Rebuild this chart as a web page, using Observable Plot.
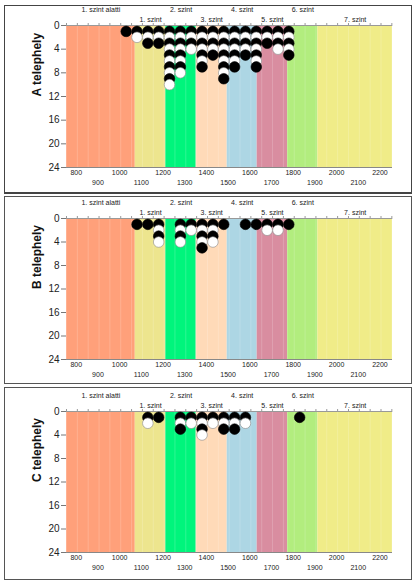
<!DOCTYPE html>
<html>
<head>
<meta charset="utf-8">
<script src="https://cdn.jsdelivr.net/npm/d3@7"></script>
<script src="https://cdn.jsdelivr.net/npm/@observablehq/plot@0.6"></script>
<style>
  html, body { margin: 0; padding: 0; background: #fff; }
  #page { position: relative; width: 418px; height: 584px; overflow: hidden; font-family: "Liberation Sans", Arial, sans-serif; }
  .panel { position: absolute; left: 4px; }
  .frame { position: absolute; box-sizing: border-box; pointer-events: none; }
</style>
</head>
<body>
<div id="page"></div>
<script>
// ---- data ----
const levelNames = ["1. szint alatti", "1. szint", "2. szint", "3. szint", "4. szint", "5. szint", "6. szint", "7. szint"];
const levelEdges = [755, 1072, 1213, 1353, 1496, 1634, 1775, 1914, 2258];
const levelColors = ["#FFA07A", "#EDE58E", "#00F57C", "#FFDAB8", "#ADD6E4", "#D98DA0", "#B2ED7E", "#F0EC88"];

const xTicksRow1 = [800, 1000, 1200, 1400, 1600, 1800, 2000, 2200];
const xTicksRow2 = [900, 1100, 1300, 1500, 1700, 1900, 2100];
const yTicks = [0, 4, 8, 12, 16, 20, 24];

const siteNames = ["A telephely", "B telephely", "C telephely"];

const binsA = [1030, 1080, 1130, 1180, 1230, 1280, 1330, 1380, 1430, 1480, 1530, 1580, 1630, 1680, 1730, 1780];
const countsA = [1, 2, 3, 3, 10, 8, 4, 7, 5, 9, 7, 5, 7, 3, 4, 5];

const binsB = [1080, 1130, 1180, 1280, 1330, 1380, 1430, 1480, 1580, 1630, 1680, 1730, 1780];
const countsB = [1, 1, 4, 4, 2, 5, 4, 1, 1, 1, 2, 2, 1];

const binsC = [1130, 1180, 1280, 1330, 1380, 1430, 1480, 1530, 1580, 1830];
const countsC = [2, 1, 3, 2, 4, 2, 3, 3, 2, 1];

// ---- derived tables ----
const levels = levelNames.map((name, i) => ({
  name, start: levelEdges[i], end: levelEdges[i + 1], color: levelColors[i], row: i % 2
}));
const binEdges = d3.range(755, 2258, 50);

function stackDots(bins, counts) {
  const out = [];
  bins.forEach((b, i) => { for (let k = 1; k <= counts[i]; k++) out.push({x: b, k}); });
  return out;
}

const panels = [
  {site: siteNames[0], dots: stackDots(binsA, countsA), top: 5, height: 188, mt: 20, mb: 26},
  {site: siteNames[1], dots: stackDots(binsB, countsB), top: 196, height: 188, mt: 22, mb: 25},
  {site: siteNames[2], dots: stackDots(binsC, countsC), top: 387, height: 193, mt: 24, mb: 28}
];

const page = document.getElementById("page");
const font = "'Liberation Sans', Arial, sans-serif";

panels.forEach(p => {
  const chart = Plot.plot({
    width: 408,
    height: p.height,
    marginLeft: 62,
    marginRight: 20,
    marginTop: p.mt,
    marginBottom: p.mb,
    style: {fontFamily: font, background: "transparent", color: "#222"},
    x: {domain: [755, 2258]},
    y: {domain: [0, 24], reverse: true},
    marks: [
      Plot.rect(levels, {x1: "start", x2: "end", y1: 0, y2: 24, fill: "color"}),
      Plot.ruleX(binEdges, {y1: 0, y2: 24, stroke: "white", strokeOpacity: 0.18, strokeWidth: 1}),
      Plot.ruleY([0], {stroke: "#999", strokeWidth: 1}),
      Plot.ruleY([24], {stroke: "#888", strokeWidth: 1}),
      Plot.axisX({anchor: "top", ticks: binEdges, tickSize: 3, tickFormat: () => "", label: null, stroke: "#999"}),
      Plot.axisY({ticks: yTicks, tickSize: 5, tickPadding: 2, fontSize: 10, label: null, stroke: "#777", fill: "#222"}),
      Plot.text(levels.filter(d => d.row === 0), {x: d => (d.start + d.end) / 2, text: "name", frameAnchor: "top",
        dy: -16, lineAnchor: "middle", fontSize: 7, fill: "#222"}),
      Plot.text(levels.filter(d => d.row === 1), {x: d => (d.start + d.end) / 2, text: "name", frameAnchor: "top",
        dy: -6, lineAnchor: "middle", fontSize: 7, fill: "#222"}),
      Plot.text(xTicksRow1, {x: d => d, text: d => String(d), frameAnchor: "bottom", dy: 5.5, lineAnchor: "middle", fontSize: 7, fill: "#222"}),
      Plot.text(xTicksRow2, {x: d => d, text: d => String(d), frameAnchor: "bottom", dy: 15.5, lineAnchor: "middle", fontSize: 7, fill: "#222"}),
      Plot.text([p.site], {text: d => d, frameAnchor: "left", dx: -29, rotate: -90, fontWeight: "bold", fontSize: 12, fill: "#111"}),
      Plot.dot(p.dots, {x: "x", y: "k", r: 5.3,
        fill: d => d.k % 2 === 1 ? "#000" : "#fff",
        stroke: d => d.k % 2 === 1 ? "#000" : "#888",
        strokeWidth: 0.6})
    ]
  });
  const wrap = document.createElement("div");
  wrap.className = "panel";
  wrap.style.top = p.top + "px";
  wrap.appendChild(chart);
  page.appendChild(wrap);
});

// frames
const frames = [
  {top: 5, height: 188.5, bw: "1px 1px 2px 1px", color: "#444"},
  {top: 195.5, height: 188, bw: "1px", color: "#555"},
  {top: 386.5, height: 193, bw: "1px", color: "#555"}
];
frames.forEach(f => {
  const d = document.createElement("div");
  d.className = "frame";
  d.style.left = "4px";
  d.style.width = "408px";
  d.style.top = f.top + "px";
  d.style.height = f.height + "px";
  d.style.borderStyle = "solid";
  d.style.borderColor = f.color;
  d.style.borderWidth = f.bw;
  page.appendChild(d);
});
</script>
</body>
</html>
